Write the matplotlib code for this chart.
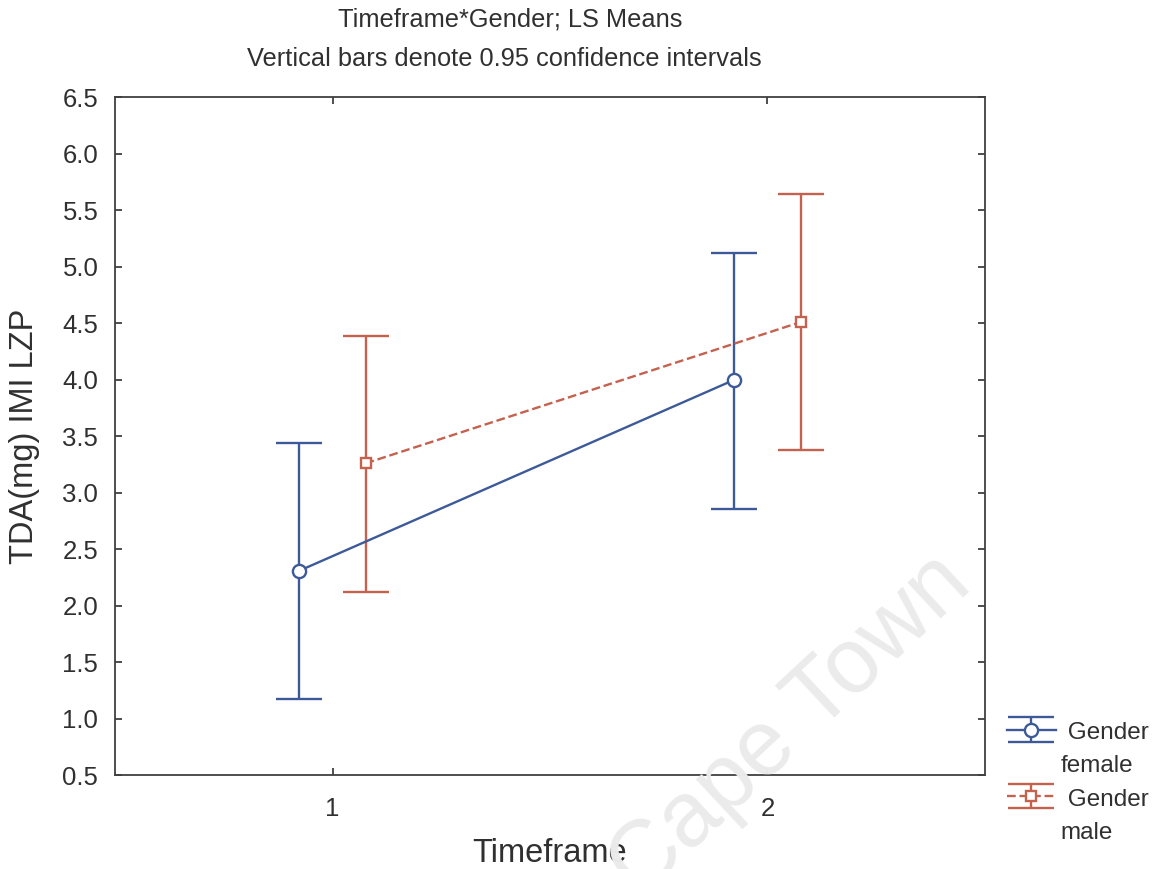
import numpy as np
import matplotlib.pyplot as plt
from matplotlib.lines import Line2D
plt.rcParams['font.family'] = ['Liberation Sans', 'DejaVu Sans']

# data
timeframes = [1, 2]
female_mean = [2.31, 4.00]
female_lo = [1.17, 2.86]
female_hi = [3.44, 5.12]
male_mean = [3.26, 4.51]
male_lo = [2.12, 3.38]
male_hi = [4.39, 5.64]

BLUE = "#3d5a98"
RED = "#c4614f"
TXT = "#303030"
OFFSET = 0.076

fig = plt.figure(figsize=(11.63, 8.69), dpi=100)
ax = fig.add_axes([0.0989, 0.108, 0.748, 0.780])

x = np.array(timeframes, dtype=float)
f_err = [np.subtract(female_mean, female_lo), np.subtract(female_hi, female_mean)]
m_err = [np.subtract(male_mean, male_lo), np.subtract(male_hi, male_mean)]

h_f = ax.errorbar(x - OFFSET, female_mean, yerr=f_err, color=BLUE, lw=1.7,
                  marker="o", ms=9.5, mfc="white", mec=BLUE, mew=1.7,
                  capsize=16.5, capthick=1.7, elinewidth=1.7)
h_m = ax.errorbar(x + OFFSET, male_mean, yerr=m_err, color=RED, lw=1.7, ls="--",
                  marker="s", ms=7.5, mfc="white", mec=RED, mew=1.7,
                  capsize=16.5, capthick=1.7, elinewidth=1.7)

ax.set_xlim(0.5, 2.5)
ax.set_ylim(0.5, 6.5)
ax.set_xticks(timeframes)
ax.set_yticks(np.arange(0.5, 6.51, 0.5))
ax.set_yticklabels([f"{v:.1f}" for v in np.arange(0.5, 6.51, 0.5)])
ax.tick_params(direction="in", length=5, width=1.2, labelsize=18.5,
               colors=TXT, top=True, right=True, pad=12)
ax.tick_params(axis="x", pad=16)
for s in ax.spines.values():
    s.set_color("#404040")
    s.set_linewidth(1.3)

ax.set_xlabel("Timeframe", fontsize=23.5, color=TXT, labelpad=12)
ax.set_ylabel("TDA(mg) IMI LZP", fontsize=23.5, color=TXT, labelpad=16)

fig.text(0.439, 0.977, "Timeframe*Gender; LS Means", ha="center", va="center",
         fontsize=18.3, color=TXT)
fig.text(0.434, 0.932, "Vertical bars denote 0.95 confidence intervals", ha="center",
         va="center", fontsize=18.3, color=TXT)

# legend: "Gender" next to the symbol, level name on the line below
blank = Line2D([], [], alpha=0)
fig.legend([h_f, blank, h_m, blank], [" Gender", "female", " Gender", "male"],
           loc="upper left", bbox_to_anchor=(0.866, 0.1715), frameon=False,
           fontsize=17.5, handlelength=2.0, handleheight=1.0, handletextpad=0.2,
           labelspacing=0.37, borderpad=0, borderaxespad=0, labelcolor=TXT)

# watermark
fig.text(0.68, 0.165, "Cape Town", rotation=43, ha="center", va="center",
         fontsize=66, color="#ebebeb", zorder=0)

fig.savefig("out.png", dpi=100)
